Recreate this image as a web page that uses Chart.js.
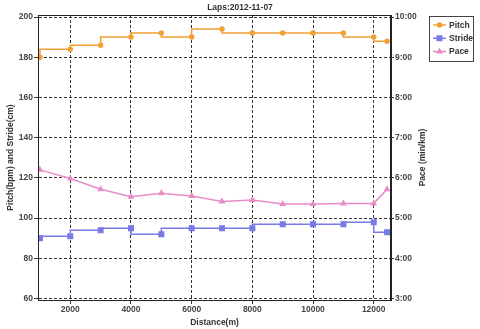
<!DOCTYPE html>
<html>
<head>
<meta charset="utf-8">
<script src="https://cdn.jsdelivr.net/npm/chart.js@4"></script>
<style>
  html, body { margin: 0; padding: 0; background: #fff; }
  #wrap { width: 480px; height: 329px; }
</style>
</head>
<body>
<div id="wrap"><canvas id="myChart" width="480" height="329"></canvas></div>
<script>
const distance = [1000, 2000, 3000, 4000, 5000, 6000, 7000, 8000, 9000, 10000, 11000, 12000, 12440];
const pitch = [180, 184, 186, 190, 192, 190, 194, 192, 192, 192, 192, 190, 188];
const stride = [90, 91, 94, 95, 92, 95, 95, 95, 97, 97, 97, 98, 93];
const pace = ["6:12", "5:59", "5:43", "5:32", "5:37", "5:33", "5:25", "5:27", "5:21", "5:21", "5:22", "5:22", "5:43"];

const distanceTicks = [2000, 4000, 6000, 8000, 10000, 12000];
const leftTicks = [60, 80, 100, 120, 140, 160, 180, 200];
const paceTicks = ["3:00", "4:00", "5:00", "6:00", "7:00", "8:00", "9:00", "10:00"];

const toSec = s => { const p = s.split(":"); return +p[0] * 60 + +p[1]; };
const fmtPace = v => Math.floor(v / 60) + ":" + String(Math.round(v % 60)).padStart(2, "0");

const xy = (vals) => vals.map((v, i) => ({ x: distance[i], y: v }));

const fontFam = "'Liberation Sans', Arial, sans-serif";
const tickFont = { family: fontFam, size: 8.5, weight: "bold" };

// title, right axis title, legend box, plot frame
const extras = {
  id: "extras",
  afterDraw(chart) {
    const ctx = chart.ctx;
    const a = chart.chartArea;
    ctx.save();
    ctx.strokeStyle = "#222";
    ctx.lineWidth = 1;
    ctx.strokeRect(Math.round(a.left) + 0.5, Math.round(a.top) + 0.5,
      Math.round(a.right - a.left) - 1, Math.round(a.bottom - a.top));

    ctx.fillStyle = "#333";
    ctx.font = "bold 8.5px " + fontFam;
    ctx.textAlign = "center";
    ctx.textBaseline = "middle";
    ctx.fillText("Laps:2012-11-07", 240, 8);

    ctx.save();
    ctx.translate(423, (a.top + a.bottom) / 2);
    ctx.rotate(-Math.PI / 2);
    ctx.fillText("Pace (min/km)", 0, 0);
    ctx.restore();

    // legend
    ctx.strokeStyle = "#444";
    ctx.strokeRect(429.5, 16.5, 44, 45);
    chart.data.datasets.forEach((ds, i) => {
      const y = 25 + i * 13.3;
      ctx.strokeStyle = ds.borderColor;
      ctx.lineWidth = 1.5;
      ctx.beginPath();
      ctx.moveTo(433, y);
      ctx.lineTo(446, y);
      ctx.stroke();
      Chart.helpers.drawPoint(ctx, {
        pointStyle: ds.pointStyle, radius: ds.pointRadius, borderWidth: 1
      }, 439.5, y);
      ctx.fillStyle = ds.borderColor;
      ctx.fill();
      ctx.fillStyle = "#333";
      ctx.textAlign = "left";
      ctx.fillText(ds.label, 449, y + 0.5);
    });
    ctx.restore();
  }
};

new Chart(document.getElementById("myChart"), {
  type: "line",
  data: {
    datasets: [
      {
        label: "Pitch",
        data: xy(pitch),
        yAxisID: "y",
        borderColor: "#f0a035",
        backgroundColor: "#f0a035",
        borderWidth: 1.5,
        stepped: "after",
        pointStyle: "circle",
        pointRadius: 2
      },
      {
        label: "Stride",
        data: xy(stride),
        yAxisID: "y",
        borderColor: "#7a7ae6",
        backgroundColor: "#7a7ae6",
        borderWidth: 1.5,
        stepped: "after",
        pointStyle: "rect",
        pointRadius: 3.2
      },
      {
        label: "Pace",
        data: xy(pace.map(toSec)),
        yAxisID: "y1",
        borderColor: "#e88cc8",
        backgroundColor: "#e88cc8",
        borderWidth: 1.5,
        tension: 0,
        pointStyle: "triangle",
        pointRadius: 2.5
      }
    ]
  },
  options: {
    responsive: false,
    animation: false,
    layout: { padding: { top: 15, right: 50, bottom: 0, left: 0 } },
    plugins: {
      legend: { display: false },
      title: { display: false },
      tooltip: { enabled: false }
    },
    scales: {
      x: {
        type: "linear",
        min: 935,
        max: 12570,
        afterBuildTicks: s => { s.ticks = distanceTicks.map(v => ({ value: v })); },
        afterFit: s => { s.height = 29; },
        ticks: { font: tickFont, color: "#444", padding: 1, maxRotation: 0, callback: v => String(v) },
        grid: { color: "#333", lineWidth: 1, tickLength: 4, tickColor: "#333" },
        border: { color: "#222", dash: [3, 2] },
        title: { display: true, text: "Distance(m)", font: tickFont, color: "#333", padding: { top: 0, bottom: 1 } }
      },
      y: {
        position: "left",
        min: 59.3,
        max: 201,
        afterBuildTicks: s => { s.ticks = leftTicks.map(v => ({ value: v })); },
        afterFit: s => { s.width = 38; },
        ticks: { font: tickFont, color: "#444", padding: 1 },
        grid: { color: "#333", lineWidth: 1, tickLength: 4, tickColor: "#333" },
        border: { color: "#222", dash: [3, 2] },
        title: { display: true, text: "Pitch(bpm) and Stride(cm)", font: tickFont, color: "#333", padding: { top: 6, bottom: 0 } }
      },
      y1: {
        position: "right",
        min: 177.9,
        max: 603,
        afterBuildTicks: s => { s.ticks = paceTicks.map(t => ({ value: toSec(t) })); },
        afterFit: s => { s.width = 39; },
        ticks: { font: tickFont, color: "#444", padding: 1, callback: v => fmtPace(v) },
        grid: { drawOnChartArea: false, color: "#333", tickLength: 3, tickColor: "#333" },
        border: { color: "#222" },
        title: { display: false }
      }
    }
  },
  plugins: [extras]
});
</script>
</body>
</html>
